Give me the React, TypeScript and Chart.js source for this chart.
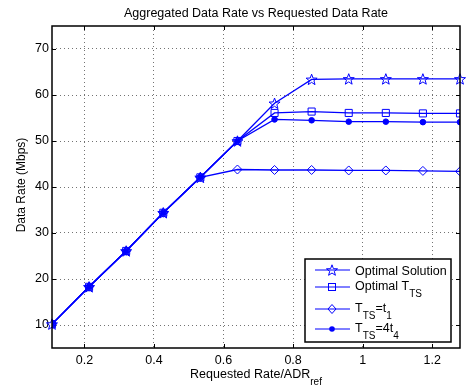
import React, { useEffect, useRef } from 'react';
import { Chart, registerables } from 'chart.js';
Chart.register(...registerables);

const requestedRate = [0.1067, 0.2133, 0.32, 0.4267, 0.5333, 0.64, 0.7467, 0.8533, 0.96, 1.0667, 1.1733, 1.28];
const optimalSolution = [10.2, 18.3, 26.1, 34.4, 42.1, 50.0, 58.2, 63.4, 63.5, 63.5, 63.5, 63.5];
const optimalTTS = [10.2, 18.3, 26.1, 34.4, 42.1, 50.0, 56.1, 56.4, 56.1, 56.1, 56.0, 56.0];
const ttsT1 = [10.2, 18.3, 26.1, 34.4, 42.1, 43.8, 43.7, 43.7, 43.6, 43.6, 43.5, 43.4];
const tts4T4 = [10.2, 18.3, 26.1, 34.4, 42.1, 50.0, 54.7, 54.5, 54.2, 54.2, 54.1, 54.1];
const xTicks = [0.2, 0.4, 0.6, 0.8, 1.0, 1.2];
const yTicks = [10, 20, 30, 40, 50, 60, 70];

const chartTitle = 'Aggregated Data Rate vs Requested Data Rate';
const xTitle = ['Requested Rate/ADR', 'ref'];
const yTitle = 'Data Rate (Mbps)';
const legendLabels: [string, string][][] = [
  [['Optimal Solution', '']],
  [['Optimal T', 'TS']],
  [['T', 'TS'], ['=t', '1']],
  [['T', 'TS'], ['=4t', '4']],
];
const markerKinds = ['star', 'square', 'diamond', 'dot'];

const BLUE = '#0000ff';
const FONT = '"Liberation Sans", Arial, Helvetica, sans-serif';

function starPath(ctx: CanvasRenderingContext2D, x: number, y: number) {
  const ro = 5.8, ri = 2.4;
  ctx.beginPath();
  for (let i = 0; i < 10; i++) {
    const r = i % 2 === 0 ? ro : ri;
    const a = -Math.PI / 2 + (i * Math.PI) / 5;
    const px = x + r * Math.cos(a);
    const py = y + 0.6 + r * Math.sin(a);
    if (i === 0) ctx.moveTo(px, py);
    else ctx.lineTo(px, py);
  }
  ctx.closePath();
}

function drawMarker(ctx: CanvasRenderingContext2D, kind: string, x: number, y: number) {
  ctx.save();
  ctx.strokeStyle = BLUE;
  ctx.fillStyle = BLUE;
  ctx.lineWidth = 1;
  if (kind === 'star') {
    starPath(ctx, x, y);
    ctx.stroke();
  } else if (kind === 'square') {
    ctx.strokeRect(x - 3.5, y - 3.5, 7, 7);
  } else if (kind === 'diamond') {
    ctx.beginPath();
    ctx.moveTo(x, y - 4.5);
    ctx.lineTo(x + 4, y);
    ctx.lineTo(x, y + 4.5);
    ctx.lineTo(x - 4, y);
    ctx.closePath();
    ctx.stroke();
  } else {
    ctx.beginPath();
    ctx.arc(x, y, 2.8, 0, Math.PI * 2);
    ctx.fill();
  }
  ctx.restore();
}

export default function App() {
  const ref = useRef<HTMLCanvasElement>(null);
  useEffect(() => {
    document.body.style.margin = '0';
    const common = {
      borderColor: BLUE,
      backgroundColor: BLUE,
      borderWidth: 1.3,
      pointBorderWidth: 1,
      pointBorderColor: BLUE,
      tension: 0,
      fill: false,
    };
    const mk = (arr: number[]) => requestedRate.map((x, i) => ({ x, y: arr[i] }));

    const decor = {
      id: 'decor',
      beforeDatasetsDraw(chart: any) {
        const { ctx, chartArea: a } = chart;
        ctx.save();
        ctx.strokeStyle = '#000';
        ctx.lineWidth = 1;
        const xs = chart.scales.x;
        const ys = chart.scales.y;
        ctx.beginPath();
        xTicks.forEach((t) => {
          const px = Math.round(xs.getPixelForValue(t)) + 0.5;
          ctx.moveTo(px, a.bottom);
          ctx.lineTo(px, a.bottom - 4);
          ctx.moveTo(px, a.top);
          ctx.lineTo(px, a.top + 4);
        });
        yTicks.forEach((t) => {
          const py = Math.round(ys.getPixelForValue(t)) + 0.5;
          ctx.moveTo(a.left, py);
          ctx.lineTo(a.left + 4, py);
          ctx.moveTo(a.right, py);
          ctx.lineTo(a.right - 4, py);
        });
        ctx.stroke();
        ctx.restore();
      },
      afterDatasetDraw(chart: any, args: any) {
        if (args.index !== 0) return;
        const ctx = chart.ctx;
        args.meta.data.forEach((pt: any) => drawMarker(ctx, 'star', pt.x, pt.y));
      },
      afterDraw(chart: any) {
        const { ctx, chartArea: a } = chart;
        ctx.save();
        ctx.strokeStyle = '#000';
        ctx.lineWidth = 1.5;
        ctx.strokeRect(a.left, a.top, a.right - a.left, a.bottom - a.top);
        ctx.fillStyle = '#000';
        ctx.font = `12.5px ${FONT}`;
        ctx.textAlign = 'center';
        ctx.textBaseline = 'alphabetic';
        const cx = (a.left + a.right) / 2;
        ctx.fillText(chartTitle, cx, 17);
        ctx.font = `12.5px ${FONT}`;
        const w1 = ctx.measureText(xTitle[0]).width;
        ctx.font = `10px ${FONT}`;
        const w2 = ctx.measureText(xTitle[1]).width;
        const sx = cx - (w1 + w2) / 2;
        ctx.textAlign = 'left';
        ctx.font = `12.5px ${FONT}`;
        ctx.fillText(xTitle[0], sx, 378);
        ctx.font = `10px ${FONT}`;
        ctx.fillText(xTitle[1], sx + w1, 385);
        ctx.save();
        ctx.translate(22, (a.top + a.bottom) / 2 - 2);
        ctx.rotate(-Math.PI / 2);
        ctx.textAlign = 'center';
        ctx.textBaseline = 'middle';
        ctx.font = `12px ${FONT}`;
        ctx.fillText(yTitle, 0, 0);
        ctx.restore();
        // legend
        const bw = 146, bh = 83;
        const bx = a.right - 9 - bw;
        const by = a.bottom - 6 - bh;
        ctx.fillStyle = '#fff';
        ctx.fillRect(bx, by, bw, bh);
        ctx.strokeStyle = '#000';
        ctx.lineWidth = 1.5;
        ctx.strokeRect(bx, by, bw, bh);
        const rows = [11, 28, 50, 70];
        legendLabels.forEach((parts, i) => {
          const my = by + rows[i];
          ctx.strokeStyle = BLUE;
          ctx.lineWidth = 1;
          ctx.beginPath();
          ctx.moveTo(bx + 10, my);
          ctx.lineTo(bx + 45, my);
          ctx.stroke();
          drawMarker(ctx, markerKinds[i], bx + 27, my);
          const hasSub = parts.some((p) => p[1]);
          const base = hasSub ? my + 2.5 : my + 4.5;
          let tx = bx + 50;
          ctx.fillStyle = '#000';
          ctx.textAlign = 'left';
          ctx.textBaseline = 'alphabetic';
          parts.forEach(([main, sub]) => {
            ctx.font = `12.5px ${FONT}`;
            ctx.fillText(main, tx, base);
            tx += ctx.measureText(main).width;
            if (sub) {
              ctx.font = `10px ${FONT}`;
              ctx.fillText(sub, tx, base + 7);
              tx += ctx.measureText(sub).width;
            }
          });
        });
        ctx.restore();
      },
    };

    const chart = new Chart(ref.current!, {
      type: 'line',
      data: {
        datasets: [
          { ...common, label: 'Optimal Solution', data: mk(optimalSolution), pointRadius: 0, order: 4 },
          { ...common, label: 'Optimal TTS', data: mk(optimalTTS), pointStyle: 'rect', pointRadius: 5, pointBackgroundColor: 'rgba(0,0,0,0)', order: 3 },
          { ...common, label: 'TTS=t1', data: mk(ttsT1), pointStyle: 'rectRot', pointRadius: 4.5, pointBackgroundColor: 'rgba(0,0,0,0)', order: 2 },
          { ...common, label: 'TTS=4t4', data: mk(tts4T4), pointStyle: 'circle', pointRadius: 2.8, pointBackgroundColor: BLUE, order: 1 },
        ],
      },
      options: {
        animation: false,
        responsive: false,
        devicePixelRatio: 1,
        layout: { padding: { top: 26, right: -3, left: 0, bottom: 0 } },
        plugins: { legend: { display: false }, title: { display: false }, tooltip: { enabled: false } },
        scales: {
          x: {
            type: 'linear',
            min: requestedRate[0],
            max: requestedRate[requestedRate.length - 1],
            afterBuildTicks: (s: any) => { s.ticks = xTicks.map((v) => ({ value: v })); },
            afterFit: (s: any) => { s.height = 41; s.paddingRight = 0; },
            border: { display: false, dash: [1, 3] },
            grid: { color: 'rgba(0,0,0,0.55)', lineWidth: 1, drawTicks: false },
            ticks: { color: '#000', font: { family: FONT, size: 12.5 }, padding: 5, maxRotation: 0, autoSkip: false, callback: (v: any) => String(Number(v)) },
          },
          y: {
            type: 'linear',
            min: 5,
            max: 75,
            afterBuildTicks: (s: any) => { s.ticks = yTicks.map((v) => ({ value: v })); },
            afterFit: (s: any) => { s.width = 52; },
            border: { display: false, dash: [1, 3] },
            grid: { color: 'rgba(0,0,0,0.55)', lineWidth: 1, drawTicks: false },
            ticks: { color: '#000', font: { family: FONT, size: 12.5 }, padding: 3, autoSkip: false },
          },
        },
      } as any,
      plugins: [decor],
    });
    return () => chart.destroy();
  }, []);
  return (
    <div style={{ position: 'absolute', left: 0, top: 0, width: 466, height: 389 }}>
      <canvas ref={ref} width={466} height={389} style={{ display: 'block' }} />
    </div>
  );
}
